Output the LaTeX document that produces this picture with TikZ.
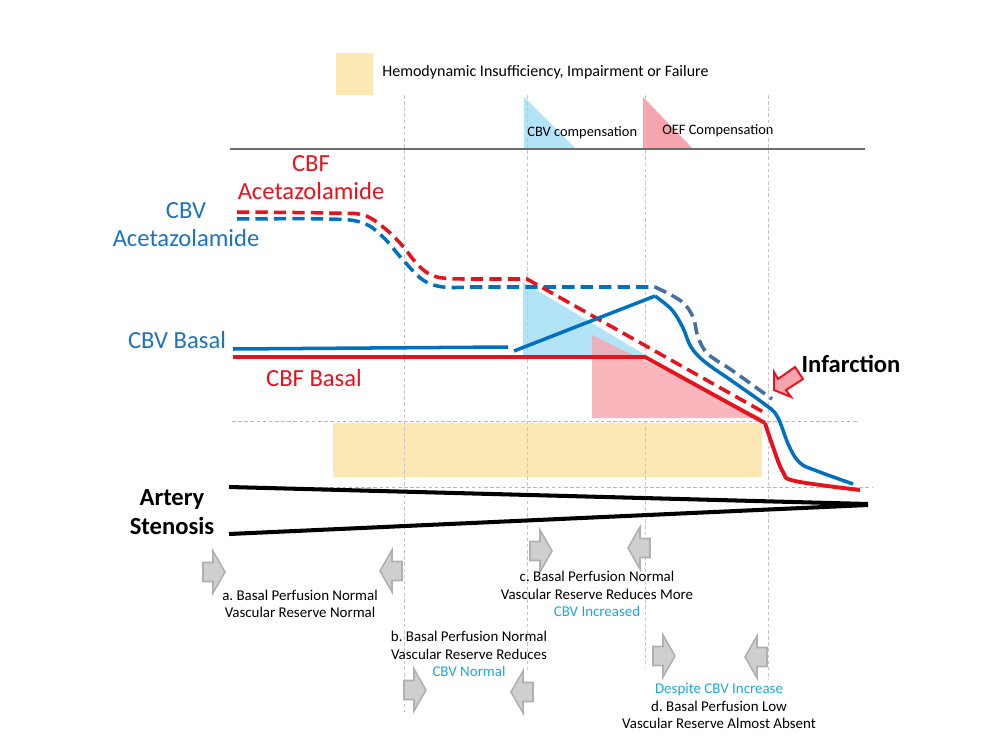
\documentclass[tikz,border=0pt]{standalone}
\usepackage{fontspec}
\setmainfont{Carlito}
\usepackage{tikz}
\usetikzlibrary{positioning}
\frenchspacing
\definecolor{cbfred}{RGB}{232,18,28}
\definecolor{cbvblue}{RGB}{0,112,192}
\definecolor{cbvdash}{RGB}{70,110,160}
\definecolor{labelblue}{RGB}{30,115,190}
\definecolor{notecyan}{RGB}{31,166,220}
\definecolor{trisky}{RGB}{178,227,246}
\definecolor{tripink}{RGB}{247,165,172}
\definecolor{hemoyellow}{RGB}{252,232,178}
\definecolor{guideblue}{RGB}{150,190,225}
\newcommand{\grayarrow}{\draw[fill=gray!38, draw=gray!62, line width=0.9pt] (0,-9.5) -- (10,-9.5) -- (10,-21) -- (22,0) -- (10,21) -- (10,9.5) -- (0,9.5) -- cycle;}
\tikzset{
	captext/.style={font=\fontsize{8.5}{9.9}\selectfont, inner sep=0pt, align=center},
	legtext/.style={font=\fontsize{8.2}{9.9}\selectfont, inner sep=0pt},
	biglabel/.style={font=\fontsize{14}{16}\selectfont, inner sep=0pt, align=center},
	boldlabel/.style={font=\fontsize{14}{16.5}\selectfont\bfseries, inner sep=0pt, align=center},
	vguide/.style={gray!45, line width=0.4pt, dash pattern=on 2pt off 1.5pt},
	hguide/.style={guideblue, line width=0.5pt, dash pattern=on 2pt off 1.5pt},
	curvesolid/.style={line width=2pt, line join=round},
	curvedash/.style={line width=2pt, line join=round, dash pattern=on 7pt off 3.5pt}
}

\begin{document}
\begin{tikzpicture}[x=0.02cm, y=-0.02cm]
	\useasboundingbox (0,0) rectangle (1000,750);

	\fill[hemoyellow] (336,53) rectangle (373,95);
	\node[legtext, font=\fontsize{9.1}{11}\selectfont, anchor=west] (hemolabel) at (382,72) {Hemodynamic Insufficiency, Impairment or Failure};

	\fill[trisky] (524,97) -- (524,149) -- (576,149) -- cycle;
	\fill[tripink] (643,97) -- (643,149) -- (693,149) -- cycle;
	\node[legtext, anchor=west] (cbvcomp) at (527,133) {CBV compensation};
	\node[legtext, anchor=west] (oefcomp) at (662,131) {OEF Compensation};
	\draw[gray!85!black, line width=0.6pt] (230,149) -- (865,149);

	\fill[trisky] (523,282) -- (523,356) -- (647,356) -- cycle;
	\fill[tripink, fill opacity=0.8] (592,335) -- (592,418) -- (762,418) -- cycle;
	\fill[hemoyellow] (333,423) rectangle (762,477);

	\draw[vguide] (404,95) -- (404,712);
	\draw[vguide] (527,95) -- (527,672);
	\draw[vguide] (645,95) -- (645,667);
	\draw[vguide] (768,95) -- (768,680);
	\draw[hguide] (232,421) -- (858,421);
	\draw[hguide] (232,487) -- (872,487);

	\draw[curvedash, cbvblue] plot[smooth, tension=0.6] coordinates {(237,219) (330,219) (363,223) (383,237) (403,260) (423,280) (443,287) (470,287)} -- (655,287);
	\draw[curvedash, cbvdash] plot[smooth, tension=0.6] coordinates {(655,287) (681,301) (693,317) (698,337) (708,354) (733,371) (772,399)};
	\draw[curvedash, cbfred] plot[smooth, tension=0.6] coordinates {(237,212) (330,213) (363,215) (383,227) (400,243) (420,267) (437,277) (463,279)} -- (527,279) -- (765,413);

	\draw[curvesolid, cbvblue] (233,349) -- (508,347);
	\draw[curvesolid, cbvblue] (514,351) -- (655,296);
	\draw[curvesolid, cbvblue] plot[smooth, tension=0.6] coordinates {(655,296) (672,310) (683,328) (691,347) (705,362) (732,381) (763,403) (777,416) (789,446) (800,463) (817,471) (853,484)};
	\draw[curvesolid, cbfred, line width=2.2pt] (233,357) -- (645,357) -- (765,423);
	\draw[curvesolid, cbfred, line width=2.2pt] plot[smooth, tension=0.6] coordinates {(765,423) (773,447) (783,472) (795,481) (860,490)};

	\draw[line width=2.3pt] (229,487) -- (868,504);
	\draw[line width=2.3pt] (229,534) -- (868,505);

	\draw[fill=tripink, draw=cbfred, line width=1.1pt, line join=miter] (774,390) -- (791,397) -- (786,390) -- (803,379) -- (795,367) -- (778,379) -- (774,372) -- cycle;

	\node[biglabel, text=cbfred] (cbfacet) at (311,178) {CBF\\Acetazolamide};
	\node[biglabel, text=labelblue] (cbvacet) at (186,225) {CBV\\Acetazolamide};
	\node[biglabel, text=labelblue] (cbvbasal) at (177,340) {CBV Basal};
	\node[biglabel, text=cbfred] (cbfbasal) at (314,378) {CBF Basal};
	\node[boldlabel] (infarct) at (851,364) {Infarction};
	\node[boldlabel] (stenosis) at (172,512) {Artery\\Stenosis};

	\begin{scope}[shift={(203,572)}]
		\grayarrow
	\end{scope}
	\begin{scope}[shift={(402,571)}, xscale=-1]
		\grayarrow
	\end{scope}
	\begin{scope}[shift={(404,690)}]
		\grayarrow
	\end{scope}
	\begin{scope}[shift={(533,692)}, xscale=-1]
		\grayarrow
	\end{scope}
	\begin{scope}[shift={(530,551)}]
		\grayarrow
	\end{scope}
	\begin{scope}[shift={(650,548)}, xscale=-1]
		\grayarrow
	\end{scope}
	\begin{scope}[shift={(653,656)}]
		\grayarrow
	\end{scope}
	\begin{scope}[shift={(767,657)}, xscale=-1]
		\grayarrow
	\end{scope}

	\node[captext] (capa) at (300,604) {a. Basal Perfusion Normal\\Vascular Reserve Normal};
	\node[captext] (capb) at (469,654) {b. Basal Perfusion Normal\\Vascular Reserve Reduces\\\textcolor{notecyan}{CBV Normal}};
	\node[captext] (capc) at (597,594) {c. Basal Perfusion Normal\\Vascular Reserve Reduces More\\\textcolor{notecyan}{CBV Increased}};
	\node[captext] (capd) at (719,706) {\textcolor{notecyan}{Despite CBV Increase}\\d. Basal Perfusion Low\\Vascular Reserve Almost Absent};
\end{tikzpicture}
\end{document}
